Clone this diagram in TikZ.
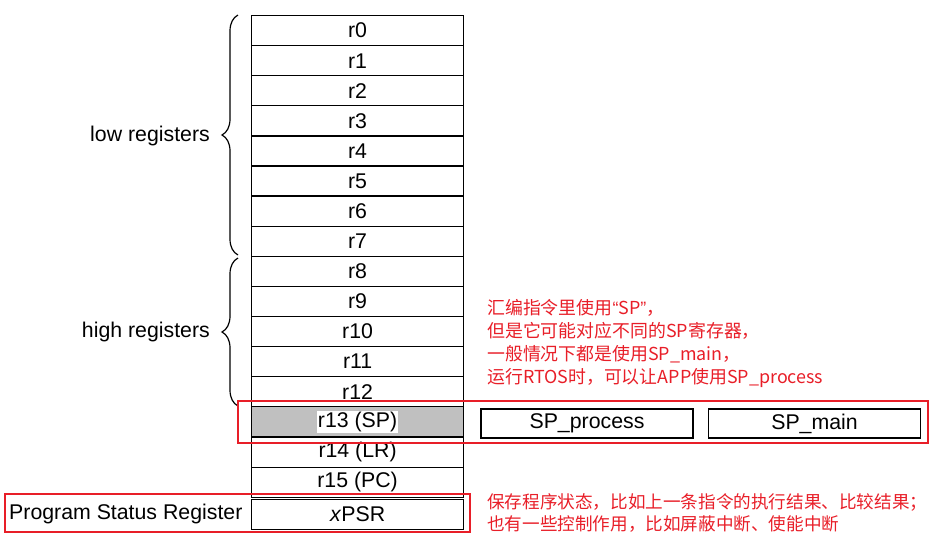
\documentclass[tikz,border=0pt]{standalone}
\usepackage{fontspec}
\setmainfont{Liberation Sans}
\newfontfamily\cjk{Noto Sans CJK SC}
\usetikzlibrary{decorations.pathreplacing}
\definecolor{annred}{RGB}{232,30,40}
\definecolor{regfill}{RGB}{192,192,192}
\begin{document}
\begin{tikzpicture}[x=1pt,y=-1pt,
  reg/.style={draw=black, line width=1.2pt, minimum width=212pt, minimum height=30.08pt, inner sep=0pt, anchor=north west, font=\fontsize{21.3}{25}\selectfont},
  spbox/.style={draw=black, line width=1.2pt, minimum width=212pt, minimum height=29pt, inner sep=0pt, font=\fontsize{21.3}{25}\selectfont},
  lbl/.style={anchor=east, inner sep=0pt, font=\fontsize{21.3}{25}\selectfont},
  redbox/.style={draw=annred, line width=1.6pt},
  note/.style={anchor=north west, align=left, inner sep=0pt, text=annred},
  regbrace/.style={decorate, decoration={brace, amplitude=16pt}, line width=1.2pt}
]
\useasboundingbox (0,0) rectangle (935,547);
% registers
\foreach \i in {0,...,12}
  \node[reg] (r\i) at (251,{15+30.08*\i}) {r\i};
\node[reg, fill=regfill] (r13) at (251,406) {};
\node[fill=white, inner sep=1pt, font=\fontsize{21.3}{25}\selectfont] (r13t) at (r13.center) {r13 (SP)};
\node[reg] (r14) at (251,436.5) {r14 (LR)};
\node[reg] (r15) at (251,466.6) {r15 (PC)};
\node[reg, minimum height=30pt] (xpsr) at (251,499) {\textit{x}PSR};
% side registers
\node[spbox] (spp) at (587,423.5) {SP\_process};
\node[spbox] (spm) at (814.5,423.5) {SP\_main};
% labels and braces
\draw[regbrace] (238,255) -- (238,15);
\draw[regbrace] (238,406) -- (238,258);
\node[lbl] (low) at (210,136) {low registers};
\node[lbl] (high) at (210,332) {high registers};
\node[anchor=west, inner sep=0pt, font=\fontsize{21.3}{25}\selectfont] (psr) at (9,514) {Program Status Register};
% red highlight boxes
\draw[redbox] (238,401) rectangle (928,443);
\draw[redbox] (5,494) rectangle (470,532);
% notes
\node[note, font=\cjk\fontsize{17.9}{23}\selectfont] (n1) at (487,299.5) {汇编指令里使用{\rmfamily“}SP{\rmfamily”}，\\但是它可能对应不同的SP寄存器，\\一般情况下都是使用SP\_main，\\运行RTOS时，可以让APP使用SP\_process};
\node[note, font=\cjk\fontsize{17.6}{22}\selectfont] (n2) at (487,493) {保存程序状态，比如上一条指令的执行结果、比较结果；\\也有一些控制作用，比如屏蔽中断、使能中断};
\end{tikzpicture}
\end{document}
